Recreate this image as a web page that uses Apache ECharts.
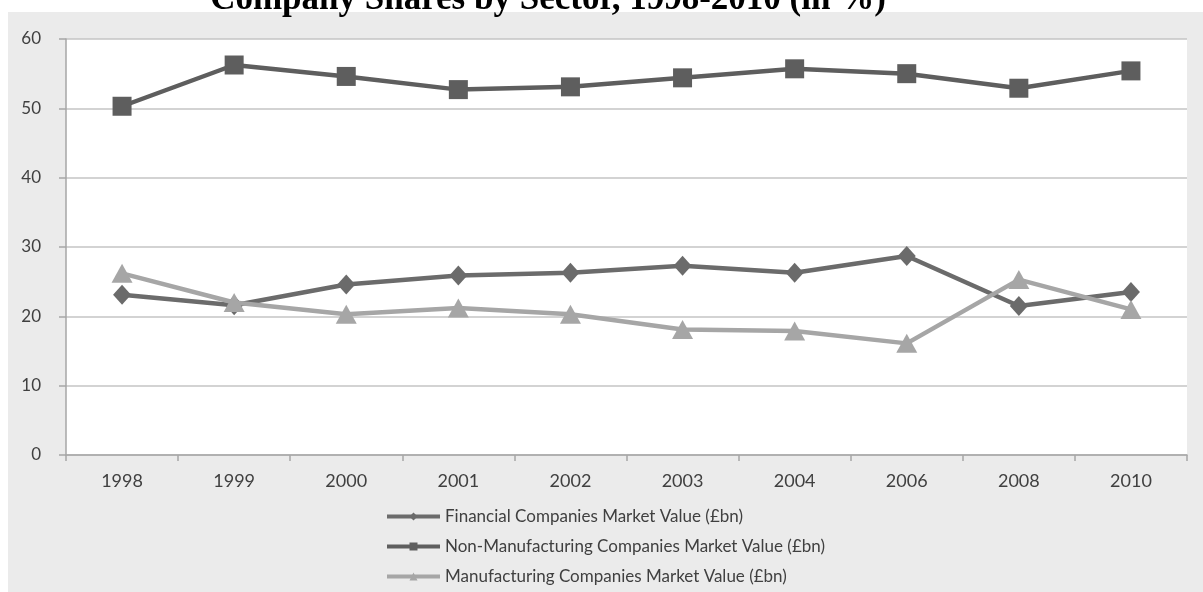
<!DOCTYPE html>
<html>
<head>
<meta charset="utf-8">
<script src="https://cdn.jsdelivr.net/npm/echarts@6/dist/echarts.min.js"></script>
<style>
html,body{margin:0;padding:0;background:#fff;}
#c{width:1203px;height:592px;}
</style>
</head>
<body>
<div id="c"></div>
<script>
const titleText = 'Company Shares by Sector, 1998-2010 (in %)';
const years = ['1998','1999','2000','2001','2002','2003','2004','2006','2008','2010'];
const seriesNames = [
  'Financial Companies Market Value (£bn)',
  'Non-Manufacturing Companies Market Value (£bn)',
  'Manufacturing Companies Market Value (£bn)'
];
const financial = [23.1, 21.6, 24.6, 25.9, 26.3, 27.3, 26.3, 28.7, 21.5, 23.5];
const nonManufacturing = [50.3, 56.25, 54.6, 52.7, 53.1, 54.4, 55.7, 55.0, 52.9, 55.4];
const manufacturing = [26.2, 22.0, 20.3, 21.2, 20.3, 18.1, 17.9, 16.1, 25.3, 21.0];

const chart = echarts.init(document.getElementById('c'), null, {renderer:'canvas'});
const labelFont = 'Lato, "Open Sans", sans-serif';
chart.setOption({
  animation: false,
  backgroundColor: '#ffffff',
  graphic: [
    {type:'rect', z:-10, shape:{x:8, y:12, width:1195, height:580}, style:{fill:'#ebebeb'}, silent:true},
    {type:'text', z:100, x:548, y:0, style:{text:titleText, font:'bold 35px "Liberation Serif", "DejaVu Serif", serif', fill:'#000', align:'center', verticalAlign:'middle'}}
  ],
  grid: {left:66, right:16, top:39, bottom:137, show:true, backgroundColor:'#ffffff', borderWidth:0, containLabel:false},
  legend: {
    orient:'vertical', left:385, top:508, padding:0, itemWidth:53, itemHeight:10, itemGap:13,
    lineStyle:{width:4},
    textStyle:{fontFamily:labelFont, fontSize:17, color:'#404040', lineHeight:17},
    data: seriesNames
  },
  xAxis: {
    type:'category', data:years, boundaryGap:true,
    axisLine:{lineStyle:{color:'#a6a6a6', width:1.5}},
    axisTick:{show:true, length:6, interval:0, lineStyle:{color:'#a6a6a6', width:1.5}},
    axisLabel:{fontFamily:labelFont, fontSize:18, color:'#404040', margin:17, interval:0}
  },
  yAxis: {
    type:'value', min:0, max:60, interval:10,
    axisLine:{show:true, lineStyle:{color:'#a6a6a6', width:1.5}},
    axisTick:{show:true, length:7, lineStyle:{color:'#a6a6a6', width:1.5}},
    splitLine:{lineStyle:{color:'#c4c4c4', width:1.5}},
    axisLabel:{fontFamily:labelFont, fontSize:17, color:'#404040', margin:25}
  },
  series: [
    {name:seriesNames[0], type:'line', data:financial, symbol:'diamond', symbolSize:[18,20],
     lineStyle:{color:'#6b6b6b', width:4.5}, itemStyle:{color:'#6b6b6b'}, z:2},
    {name:seriesNames[1], type:'line', data:nonManufacturing, symbol:'rect', symbolSize:19,
     lineStyle:{color:'#5e5e5e', width:4.5}, itemStyle:{color:'#5e5e5e'}, z:3},
    {name:seriesNames[2], type:'line', data:manufacturing, symbol:'triangle', symbolSize:[21,19],
     lineStyle:{color:'#a6a6a6', width:4.5}, itemStyle:{color:'#a6a6a6'}, z:4}
  ]
});
</script>
</body>
</html>
